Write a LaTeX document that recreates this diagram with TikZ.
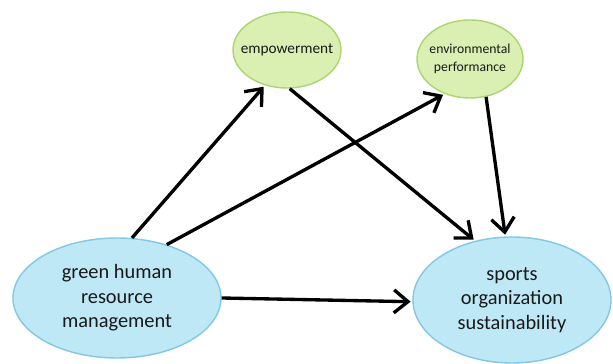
\documentclass[tikz,border=0pt]{standalone}
\usepackage{fontspec}
\setmainfont{Carlito}
\usetikzlibrary{arrows.meta,shapes.geometric}
\definecolor{leafFill}{RGB}{218,240,178}
\definecolor{leafDraw}{RGB}{172,212,112}
\definecolor{skyFill}{RGB}{190,232,246}
\definecolor{skyDraw}{RGB}{130,200,228}

\begin{document}
\begin{tikzpicture}[
    factor/.style={ellipse, draw=leafDraw, fill=leafFill, line width=0.8pt, inner sep=0pt, inner xsep=-6pt, align=center, text=black!90},
    construct/.style={ellipse, draw=skyDraw, fill=skyFill, line width=0.8pt, inner sep=0pt, align=center, text=black!90, font=\fontsize{11.6}{14}\selectfont},
    link/.style={line width=1.9pt, -{Straight Barb[length=2.8mm,width=4.6mm,line width=1.9pt]}, shorten >=1pt},
]
\useasboundingbox (0,0) rectangle (12.26,7.28);

% Mediators - top row
\node[factor, minimum width=2.16cm, minimum height=1.52cm, font=\fontsize{8.7}{10}\selectfont] (emp) at (5.74,6.28) {empowerment};
\node[factor, minimum width=2.12cm, minimum height=1.56cm, font=\fontsize{7.8}{10}\selectfont] (envp) at (9.40,6.10) {environmental\\performance};

% Main constructs - bottom row
\node[construct, minimum width=4.16cm, minimum height=2.40cm] (ghrm) at (2.34,1.32) {green human\\resource\\management};
\node[construct, minimum width=3.96cm, minimum height=2.52cm] (sos) at (10.24,1.28) {sports\\organization\\sustainability};

% Paths
\draw[link] (ghrm.76) -- (emp.238);
\draw[link] (ghrm.47) -- (envp.234);
\draw[link] (emp.274) -- (sos.122);
\draw[link] (envp.293) -- (sos.96);
\draw[link] (ghrm.0) -- (sos.181);
\end{tikzpicture}
\end{document}
